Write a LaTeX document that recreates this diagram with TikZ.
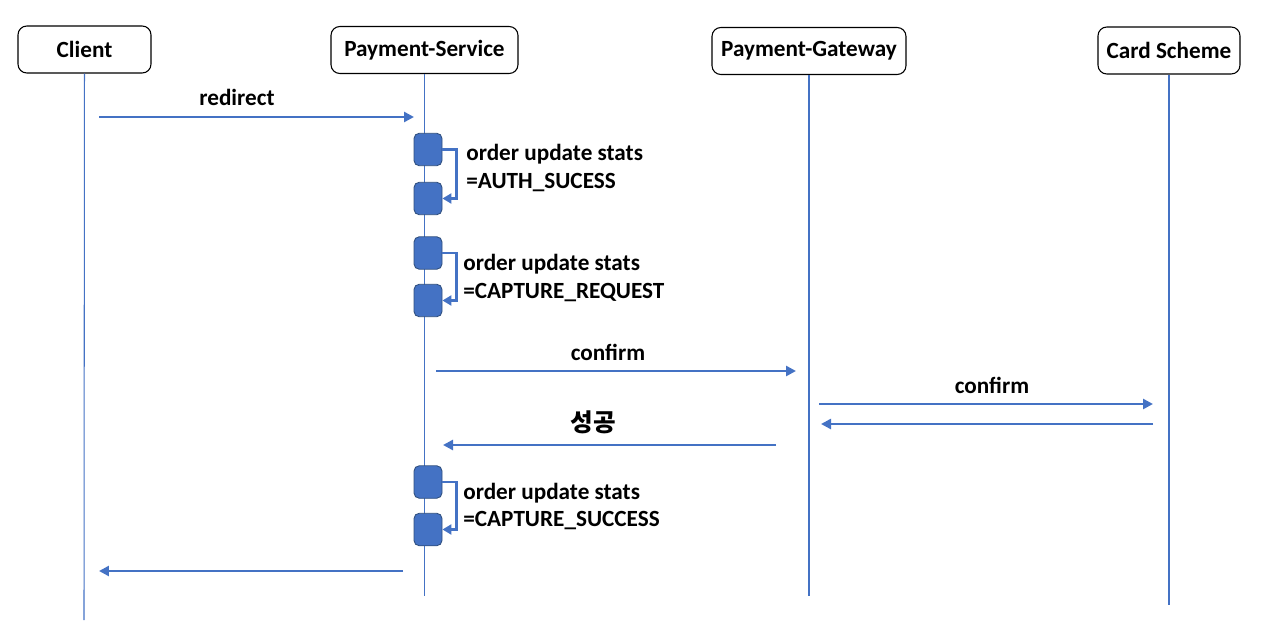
\documentclass[tikz,border=0pt]{standalone}
\usepackage{fontspec}
\setmainfont{Carlito}
\newfontfamily\krfont{Noto Sans CJK KR}
\usetikzlibrary{arrows.meta}
\definecolor{msgblue}{HTML}{4472C4}
\definecolor{actedge}{HTML}{2F4F7F}
\begin{document}
\begin{tikzpicture}[x=0.02cm, y=-0.02cm, font=\bfseries\fontsize{13.2}{15.4}\selectfont,
    actor/.style={draw, rounded corners=5pt, line width=0.6pt, minimum height=0.94cm, inner sep=0pt},
    act/.style={draw=actedge, fill=msgblue, rounded corners=3pt, line width=0.5pt, minimum width=0.56cm, minimum height=0.65cm, inner sep=0pt},
    life/.style={msgblue, line width=0.6pt},
    msg/.style={msgblue, line width=1.6pt, -{Triangle[length=2mm, width=2mm]}},
    self/.style={msgblue, line width=1.5pt, -{Triangle[length=1.8mm, width=2mm]}},
    note/.style={anchor=west, align=left, inner sep=0pt}]
  \useasboundingbox (0,0) rectangle (1282,639);

  % actors
  \node[actor, minimum width=2.66cm] (cl) at (84.5,49.5) {Client};
  \node[actor, minimum width=3.74cm] (ps) at (424.5,50) {Payment-Service};
  \node[actor, minimum width=3.88cm] (pg) at (809,51) {Payment-Gateway};
  \node[actor, minimum width=2.84cm] (cs) at (1169,50.5) {Card Scheme};

  % lifelines
  \coordinate (clEnd) at (84,620);
  \coordinate (psEnd) at (424.5,596);
  \coordinate (pgEnd) at (809,596);
  \coordinate (csEnd) at (1169,605);
  \draw[life] (cl) -- (clEnd);
  \draw[life] (ps) -- (psEnd);
  \draw[life] (pg) -- (pgEnd);
  \draw[life] (cs) -- (csEnd);

  % activations
  \node[act] (a1) at (428,149.5) {};
  \node[act] (a2) at (428,198.5) {};
  \node[act] (a3) at (428,253) {};
  \node[act] (a4) at (428,300.5) {};
  \node[act] (a5) at (428,482) {};
  \node[act] (a6) at (428,529.5) {};

  \draw[self] (a1.east) -- ++(14,0) |- (a2.east);
  \draw[self] (a3.east) -- ++(14,0) |- (a4.east);
  \draw[self] (a5.east) -- ++(14,0) |- (a6.east);

  \node[note] (n1) at (466,168) {order update stats\\=AUTH\_SUCESS};
  \node[note] (n2) at (463,278) {order update stats\\=CAPTURE\_REQUEST};
  \node[note] (n3) at (463,506.5) {order update stats\\=CAPTURE\_SUCCESS};

  % messages
  \coordinate (m1s) at (99,117);   \coordinate (m1e) at (414,117);
  \coordinate (m2s) at (436,371);  \coordinate (m2e) at (796,371);
  \coordinate (m3s) at (819,404);  \coordinate (m3e) at (1153,404);
  \coordinate (m4s) at (1153,424); \coordinate (m4e) at (821,424);
  \coordinate (m5s) at (776,445);  \coordinate (m5e) at (443,445);
  \coordinate (m6s) at (403,571);  \coordinate (m6e) at (99,571);

  \draw[msg] (m1s) -- (m1e);
  \node (l1) at (237,97) {redirect};
  \draw[msg] (m2s) -- (m2e);
  \node (l2) at (608,352) {confirm};
  \draw[msg] (m3s) -- (m3e);
  \node (l3) at (992,385) {confirm};
  \draw[msg] (m4s) -- (m4e);
  \draw[msg] (m5s) -- (m5e);
  \node[font=\krfont\bfseries\fontsize{14}{16}\selectfont] (l5) at (593,422) {성공};
  \draw[msg] (m6s) -- (m6e);
\end{tikzpicture}
\end{document}
